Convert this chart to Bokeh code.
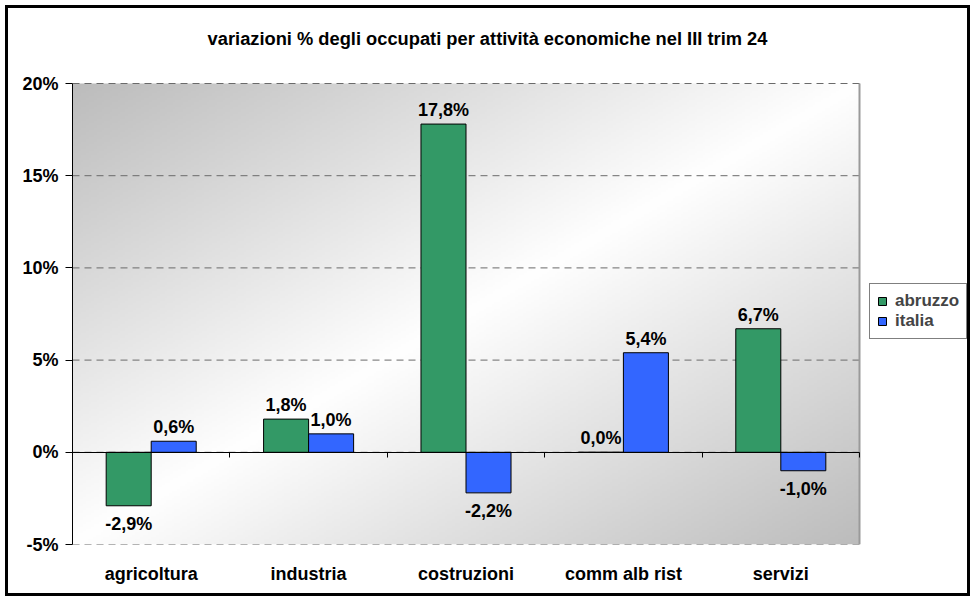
import numpy as np
from bokeh.plotting import figure
from bokeh.models import (ColumnDataSource, Range1d, LinearAxis, Label,
                          Legend, LegendItem, FixedTicker, PrintfTickFormatter)
from bokeh.core.properties import value
from bokeh.embed import file_html
from bokeh.resources import INLINE

# ---- data ----
categories = ["agricoltura", "industria", "costruzioni", "comm alb rist", "servizi"]
abruzzo = [-2.9, 1.8, 17.8, 0.0, 6.7]
italia = [0.6, 1.0, -2.2, 5.4, -1.0]
series_names = ["abruzzo", "italia"]
y_ticks = [-5, 0, 5, 10, 15, 20]
title_text = "variazioni % degli occupati per attività economiche nel III trim 24"

FONT = "Liberation Sans"
GREEN = "#339966"
BLUE = "#3366ff"

# ---- layout (pixels) ----
BORDER = 3
W, H = 965, 591          # element incl. border (border-box); canvas is clipped inside border
M_LEFT, M_RIGHT, M_TOP, M_BOTTOM = 64, 2 * BORDER, 10, 49 + 2 * BORDER
AREA_W = 787            # width of the category area in px
AREA_TOP = 75           # canvas y of the top tick
n = len(categories)
frame_w = W - M_LEFT - M_RIGHT
frame_h = H - M_TOP - M_BOTTOM
y_min, y_max = y_ticks[0], y_ticks[-1]
area_h = frame_h - (AREA_TOP - M_TOP)
px_y = area_h / (y_max - y_min)
px_x = AREA_W / n
x_end = frame_w / px_x
y_end = y_max + (AREA_TOP - M_TOP) / px_y

p = figure(x_range=Range1d(0, x_end), y_range=Range1d(y_min, y_end),
           width=W, height=H, output_backend="svg", toolbar_location=None,
           min_border_left=M_LEFT, min_border_right=M_RIGHT, min_border_top=M_TOP,
           min_border_bottom=M_BOTTOM, border_fill_color="white",
           background_fill_color="white", outline_line_color=None)
p.styles = {"border": f"{BORDER}px solid black", "position": "relative",
            "left": "5px", "top": "5px"}

# gradient background of plot area
ny, nx = 200, 300
u = np.linspace(0, 1, nx)[None, :]
v = np.linspace(1, 0, ny)[:, None]
t = (u + v) / 2.0
g = (255 - (255 - 188) * np.abs(1 - 2 * t)).astype(np.uint8)
img = np.empty((ny, nx), dtype=np.uint32)
view = img.view(dtype=np.uint8).reshape((ny, nx, 4))
view[:, :, 0] = g
view[:, :, 1] = g
view[:, :, 2] = g
view[:, :, 3] = 255
p.image_rgba(image=[img], x=0, y=y_min, dw=n, dh=y_max - y_min)

# dashed gridlines limited to the plot area
p.xgrid.visible = False
p.ygrid.visible = False
p.segment(x0=[0] * len(y_ticks), x1=[n] * len(y_ticks), y0=y_ticks, y1=y_ticks,
          line_color="#6a6a6a", line_width=1, line_dash="7 5")
# right edge of plot area
p.segment(x0=[n], x1=[n], y0=[y_min], y1=[y_max], line_color="#9a9a9a", line_width=2)

# left axis
p.yaxis.ticker = FixedTicker(ticks=y_ticks)
p.yaxis.bounds = (y_min, y_max)
p.yaxis.formatter = PrintfTickFormatter(format="%d%%")
p.yaxis.axis_line_color = "black"
p.yaxis.major_tick_line_color = "black"
p.yaxis.major_tick_out = 7
p.yaxis.major_tick_in = 0
p.yaxis.minor_tick_line_color = None
p.yaxis.major_label_standoff = 7
p.yaxis.major_label_text_font = FONT
p.yaxis.major_label_text_font_style = "bold"
p.yaxis.major_label_text_font_size = "18px"
p.yaxis.major_label_text_color = "black"

# bottom category labels
centers = [i + 0.5 for i in range(n)]
xa = p.xaxis[0]
xa.ticker = FixedTicker(ticks=centers)
xa.major_label_overrides = {c: name for c, name in zip(centers, categories)}
xa.axis_line_color = None
xa.major_tick_line_color = None
xa.minor_tick_line_color = None
xa.major_label_standoff = 13
xa.major_label_text_font = FONT
xa.major_label_text_font_style = "bold"
xa.major_label_text_font_size = "18px"
xa.major_label_text_color = "black"

# zero line with ticks between categories
bounds_ticks = list(range(n + 1))
zero_axis = LinearAxis(fixed_location=0, ticker=FixedTicker(ticks=bounds_ticks),
                       bounds=(0, n), axis_line_color="black", major_tick_line_color="black",
                       major_tick_out=5, major_tick_in=0, minor_tick_line_color=None,
                       major_label_overrides={b: "" for b in bounds_ticks})
p.add_layout(zero_axis, "below")

# bars
offsets = [-0.143, 0.143]
colors = [GREEN, BLUE]
renderers = []
for name, off, col, vals in zip(series_names, offsets, colors, [abruzzo, italia]):
    xs = [c + off for c in centers]
    src = ColumnDataSource(dict(x=xs, top=vals))
    r = p.vbar(x="x", top="top", bottom=0, width=0.286,
               fill_color=col, line_color="black", line_width=1, source=src)
    renderers.append(r)
    lab = [f"{v_:.1f}%".replace(".", ",") for v_ in vals]
    yoff = [-14 if v_ >= 0 else 8 for v_ in vals]
    base = ["alphabetic" if v_ >= 0 else "top" for v_ in vals]
    ls = ColumnDataSource(dict(x=xs, y=vals, text=lab, yoff=yoff, base=base))
    p.text(x="x", y="y", text="text", y_offset="yoff",
           text_baseline="base", text_align="center", text_font=value(FONT),
           text_font_style="bold", text_font_size="18px", text_color="black", source=ls)

# title
p.add_layout(Label(x=(487 - 72) / px_x, y=y_max, y_offset=45, text=title_text,
                   text_align="center", text_baseline="middle", text_font=FONT,
                   text_font_style="bold", text_font_size="18.3px", text_color="black"))

legend = Legend(items=[LegendItem(label=nm, renderers=[r]) for nm, r in zip(series_names, renderers)],
                location=(797, 205), border_line_color="black", border_line_width=1,
                label_text_font=FONT, label_text_font_style="bold",
                label_text_font_size="17px", glyph_width=10, glyph_height=10,
                padding=7, spacing=0, label_standoff=8, margin=0,
                background_fill_color="white", background_fill_alpha=1.0)
p.add_layout(legend)

open("out.html", "w").write(file_html(p, INLINE))
